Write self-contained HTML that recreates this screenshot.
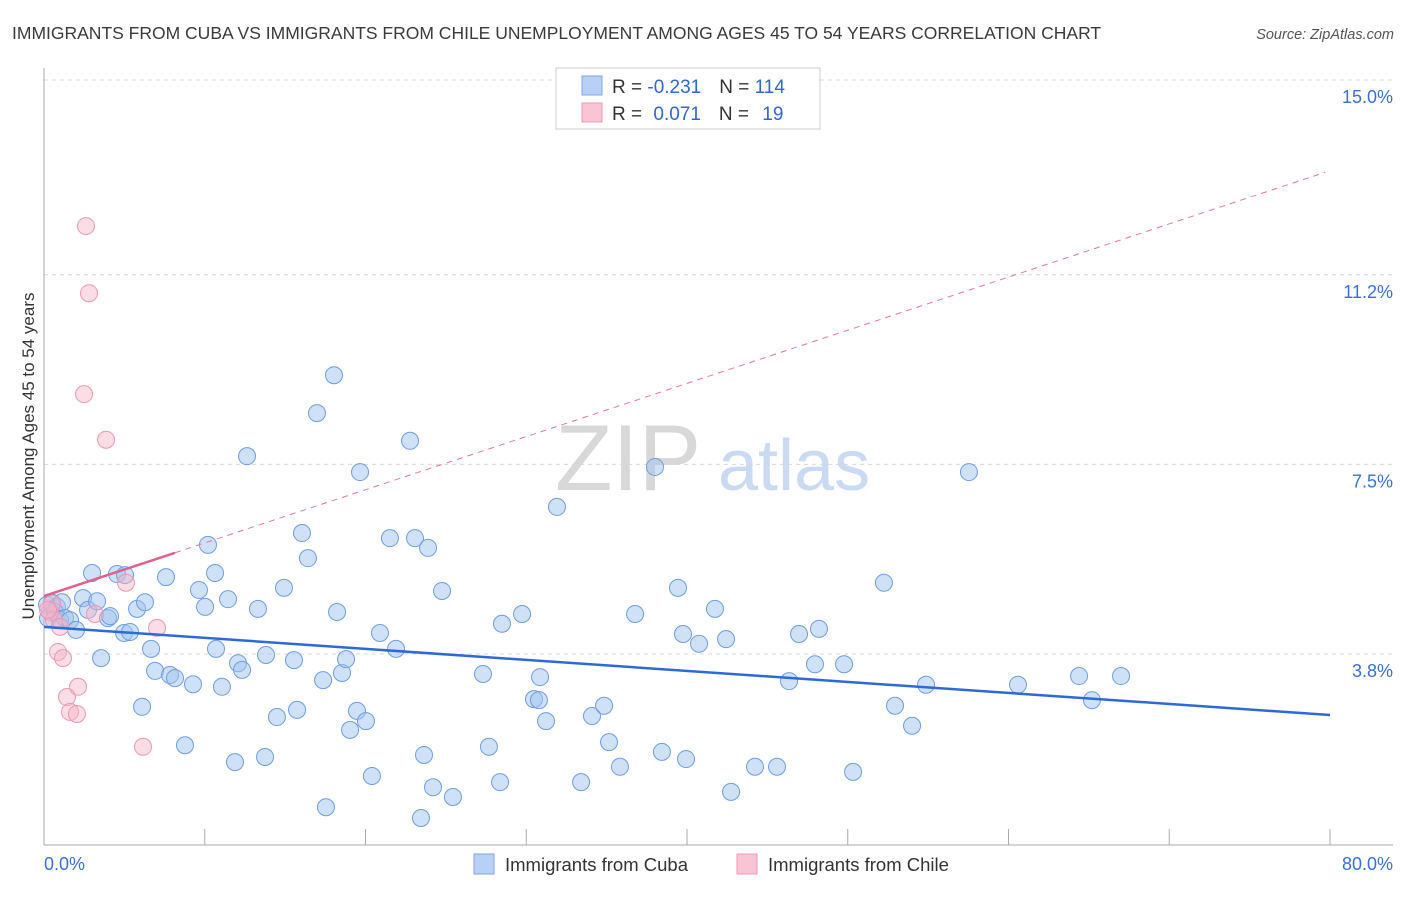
<!DOCTYPE html>
<html><head><meta charset="utf-8"><style>
body{margin:0;background:#fff;font-family:"Liberation Sans",sans-serif}
svg text{font-family:"Liberation Sans",sans-serif}
</style></head><body>
<svg id="chart" width="1406" height="892" xmlns="http://www.w3.org/2000/svg">
<text x="12" y="39" font-size="17.5" fill="#3a3a3a">IMMIGRANTS FROM CUBA VS IMMIGRANTS FROM CHILE UNEMPLOYMENT AMONG AGES 45 TO 54 YEARS CORRELATION CHART</text>
<text x="1394" y="39" font-size="14.5" fill="#555" text-anchor="end" font-style="italic">Source: ZipAtlas.com</text>
<g>
<text x="555" y="490" font-size="94" fill="#d8d8d8" font-family="Liberation Serif">ZIP</text>
<text x="718" y="490" font-size="72" fill="#c9daf3">atlas</text>
</g>
<g id="grid"></g>
<g id="axes"></g>
<g id="marks"></g>
<text transform="translate(34,456) rotate(-90)" font-size="17" fill="#333" text-anchor="middle">Unemployment Among Ages 45 to 54 years</text>
<g>
<rect x="556" y="68" width="264" height="61" fill="#fff" stroke="#ccc"/>
<rect x="582" y="76" width="20" height="19" fill="#b8d0f5" stroke="#7fa6e6"/>
<rect x="582" y="103" width="20" height="19" fill="#f9c4d3" stroke="#ee9ab5"/>
<text x="612" y="93" font-size="19" fill="#333">R = <tspan fill="#2f66cf">-0.231</tspan><tspan dx="18">N = </tspan><tspan fill="#2f66cf">114</tspan></text>
<text x="612" y="120" font-size="19" fill="#333">R = <tspan dx="6" fill="#2f66cf">0.071</tspan><tspan dx="18">N = </tspan><tspan dx="8" fill="#2f66cf">19</tspan></text>
</g>
<g>
<rect x="474" y="854" width="20" height="20" fill="#b8d0f5" stroke="#7fa6e6"/>
<text x="505" y="871" font-size="18.5" fill="#333">Immigrants from Cuba</text>
<rect x="737" y="854" width="20" height="20" fill="#f9c4d3" stroke="#ee9ab5"/>
<text x="768" y="871" font-size="18.5" fill="#333">Immigrants from Chile</text>
</g>
</svg>
<script>
const yTicks=[15.0,11.2,7.5,3.8];
const yTickLabels=["15.0%","11.2%","7.5%","3.8%"];
const xTickLabels=["0.0%","80.0%"];
const cubaX=[0.19,0.50,0.81,0.25,0.68,1.12,1.00,1.31,1.62,1.99,2.43,2.74,2.99,3.30,3.55,3.98,4.11,4.54,4.98,5.04,5.35,5.79,6.10,6.28,6.66,6.91,7.59,7.84,8.15,8.77,9.27,9.64,10.02,10.20,10.64,10.70,11.07,11.45,11.88,12.07,12.32,12.63,13.31,13.75,13.81,14.49,14.93,15.55,15.74,16.05,16.42,16.98,17.36,17.54,18.04,18.23,18.54,18.79,19.04,19.47,19.66,20.03,20.40,20.90,21.52,21.90,22.77,23.08,23.64,23.89,24.20,24.76,25.44,23.45,27.31,27.68,28.37,28.49,29.74,30.48,30.79,30.86,31.23,31.91,33.41,34.09,34.84,35.15,35.83,36.77,38.01,38.44,39.44,39.75,39.94,40.75,41.74,42.43,42.74,44.23,45.60,46.35,46.97,47.96,48.21,49.77,50.33,52.25,52.94,54.00,54.87,57.54,60.59,64.39,65.19,67.00];
const cubaY=[4.76,4.80,4.72,4.50,4.62,4.81,4.46,4.50,4.46,4.27,4.89,4.66,5.38,4.83,3.72,4.50,4.54,5.36,4.21,5.34,4.23,4.68,2.77,4.81,3.90,3.47,5.30,3.39,3.33,2.02,3.21,5.05,4.72,5.93,5.38,3.90,3.16,4.87,1.69,3.62,3.49,7.66,4.68,1.79,3.78,2.57,5.09,3.68,2.71,6.16,5.67,8.50,3.29,0.81,9.24,4.62,3.43,3.70,2.32,2.69,7.35,2.49,1.42,4.21,6.06,3.90,7.96,6.06,1.83,5.87,1.20,5.03,1.01,0.60,3.41,1.99,1.30,4.39,4.58,2.92,2.90,3.35,2.49,6.67,1.30,2.59,2.79,2.08,1.60,4.58,7.45,1.89,5.09,4.19,1.75,4.00,4.68,4.09,1.11,1.60,1.60,3.27,4.19,3.60,4.29,3.60,1.50,5.19,2.79,2.40,3.20,7.35,3.20,3.37,2.90,3.37];
const chileX=[0.37,0.62,1.00,0.87,1.18,1.43,1.62,2.05,2.12,2.49,2.61,2.80,3.17,3.86,5.10,6.16,7.03,0.50,0.25];
const chileY=[4.62,4.46,4.33,3.84,3.72,2.96,2.67,2.63,3.16,8.87,12.15,10.84,4.58,7.98,5.19,1.99,4.31,4.78,4.66];
const cubaTrend=[4.33,2.61];      // y at x=0 and x=80
const chileTrend=[4.93,13.23];    // y at x=0 and x=80
const chileSolidEnd=8.15;

const X0=44,X1=1330,Y15=80,PX=51.25;
const sx=v=>X0+(v/80)*(X1-X0);
const sy=v=>Y15+(15-v)*PX;
const NS="http://www.w3.org/2000/svg";
function mk(tag,attrs,parent){const e=document.createElementNS(NS,tag);for(const k in attrs)e.setAttribute(k,attrs[k]);parent.appendChild(e);return e;}
const grid=document.getElementById('grid'),axes=document.getElementById('axes'),marks=document.getElementById('marks');
yTicks.forEach((t,i)=>{
 const l=mk('line',{x1:X0,x2:1393,y1:sy(t),y2:sy(t),stroke:'#d8d8d8','stroke-dasharray':'4,4'},grid);
 
 
 const tx=mk('text',{x:1393,y:sy(t)+23,'font-size':18,fill:'#3b6fd4','text-anchor':'end'},grid);
 tx.textContent=yTickLabels[i];
 
 
});
const ya=mk('line',{x1:X0,x2:X0,y1:68,y2:845,stroke:'#aaa'},axes);


const xa=mk('line',{x1:X0,x2:1393,y1:845,y2:845,stroke:'#aaa'},axes);


for(let v=10;v<=80;v+=10){
 const t=mk('line',{x1:sx(v),x2:sx(v),y1:829,y2:845,stroke:'#aaa'},axes);
 
 
}
[[0,'start',44],[80,'end',1393]].forEach((a,i)=>{
 const tx=mk('text',{x:a[2],y:870,'font-size':18,fill:'#3b6fd4','text-anchor':a[1]},axes);
 tx.textContent=xTickLabels[i];
 
 
});
cubaX.forEach((x,i)=>{
 const c=mk('circle',{cx:sx(x),cy:sy(cubaY[i]),r:8.5,fill:'rgba(160,196,240,0.5)',stroke:'#6f9de0','stroke-width':1},marks);
 
 
});
chileX.forEach((x,i)=>{
 const c=mk('circle',{cx:sx(x),cy:sy(chileY[i]),r:8.5,fill:'rgba(247,180,200,0.45)',stroke:'#ec98b3','stroke-width':1},marks);
 
 
});
const ct=mk('line',{x1:sx(0),y1:sy(cubaTrend[0]),x2:sx(80),y2:sy(cubaTrend[1]),stroke:'#2c6ad6','stroke-width':2.5},marks);


const chAt=v=>chileTrend[0]+(chileTrend[1]-chileTrend[0])*v/80;
const cd=mk('line',{x1:sx(chileSolidEnd),y1:sy(chAt(chileSolidEnd)),x2:sx(79.7),y2:sy(chAt(79.7)),stroke:'#e4799c','stroke-width':1,'stroke-dasharray':'6,5'},marks);


const cs=mk('line',{x1:sx(0),y1:sy(chAt(0)),x2:sx(chileSolidEnd),y2:sy(chAt(chileSolidEnd)),stroke:'#e0628d','stroke-width':2.5},marks);


</script>
</body></html>
